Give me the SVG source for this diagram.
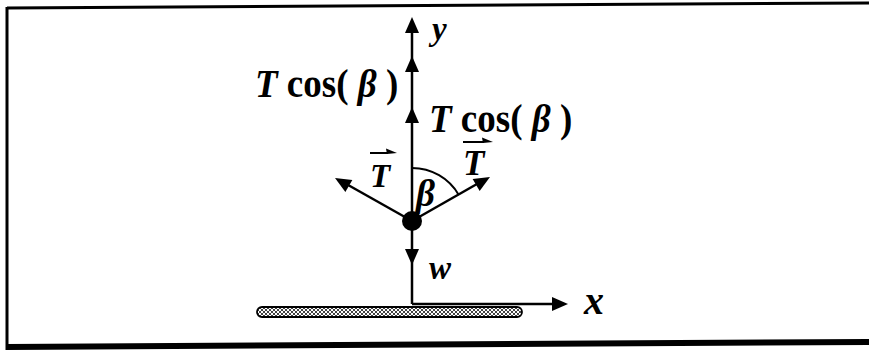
<svg xmlns="http://www.w3.org/2000/svg" width="869" height="352" viewBox="0 0 869 352">
<style>
.ln{stroke:#000;stroke-width:2.5;fill:none}
text{font-family:'Liberation Serif','DejaVu Serif',serif;font-weight:bold;fill:#000}
.it{font-style:italic}
</style>
<defs>
<path id="ah" d="M0,0 L-16,-7 L-16,7 Z" fill="#000"/>
<path id="vh" d="M0,0 L-11,-4.5 L-10,1 Z" fill="#000"/>
<pattern id="hatch" width="4" height="4" patternUnits="userSpaceOnUse">
<rect width="4" height="4" fill="#fff"/>
<path d="M0,0 L4,4 M4,0 L0,4" stroke="#444" stroke-width="1"/>
</pattern>
</defs>
<rect width="869" height="352" fill="#fff"/>
<g id="frame">
<path d="M7,8 L869,3" stroke="#000" stroke-width="3"/>
<path d="M7,347 L869,342" stroke="#000" stroke-width="6"/>
<path d="M7,7 L7,350" stroke="#000" stroke-width="3"/>
</g>
<g id="ground">
<rect x="257" y="307" width="265" height="10" rx="5" fill="url(#hatch)" stroke="#000" stroke-width="1.8"/>
</g>
<g id="connectors">
<path class="ln" d="M412,304 L412,22"/>
<path class="ln" d="M412,304 L556,304"/>
<path class="ln" d="M412,221 L341,181"/>
<path class="ln" d="M412,221 L484,180"/>
<path d="M412,168 A54,54 0 0 1 458.8,195" stroke="#000" stroke-width="2" fill="none"/>
<use href="#ah" transform="translate(412,17) rotate(-90)"/>
<use href="#ah" transform="translate(412,56) rotate(-90)"/>
<use href="#ah" transform="translate(412,107) rotate(-90)"/>
<use href="#ah" transform="translate(412,265) rotate(90)"/>
<use href="#ah" transform="translate(568,304)"/>
<use href="#ah" transform="translate(335,178) rotate(-150)"/>
<use href="#ah" transform="translate(490,177) rotate(-30)"/>
</g>
<g id="ball">
<circle cx="412" cy="221" r="10" fill="#000"/>
</g>
<g id="label-y"><text class="it" x="432" y="40" font-size="33" font-family="Liberation Serif, serif">y</text></g>
<g id="label-tcos1"><text transform="translate(255,97) scale(1,1.1)" font-size="37" font-family="Liberation Serif, serif"><tspan class="it">T</tspan> cos( <tspan class="it">β</tspan> )</text></g>
<g id="label-tcos2"><text transform="translate(429,132) scale(1,1.1)" font-size="37" font-family="Liberation Serif, serif"><tspan class="it">T</tspan> cos( <tspan class="it">β</tspan> )</text></g>
<g id="label-T-left">
<path d="M370,153 L388,153" stroke="#000" stroke-width="2"/>
<use href="#vh" transform="translate(397,153)"/>
<text class="it" x="370" y="187" font-size="33" font-family="Liberation Serif, serif">T</text>
</g>
<g id="label-T-right">
<path d="M463,142 L484,142" stroke="#000" stroke-width="2"/>
<use href="#vh" transform="translate(493,142)"/>
<text class="it" x="463" y="175" font-size="35" font-family="Liberation Serif, serif">T</text>
</g>
<g id="label-beta"><text class="it" x="416" y="206" font-size="37" font-family="Liberation Serif, serif">β</text></g>
<g id="label-w"><text class="it" x="429" y="279" font-size="33" font-family="Liberation Serif, serif">w</text></g>
<g id="label-x"><text class="it" x="584" y="314" font-size="40" font-family="Liberation Serif, serif">x</text></g>
</svg>
